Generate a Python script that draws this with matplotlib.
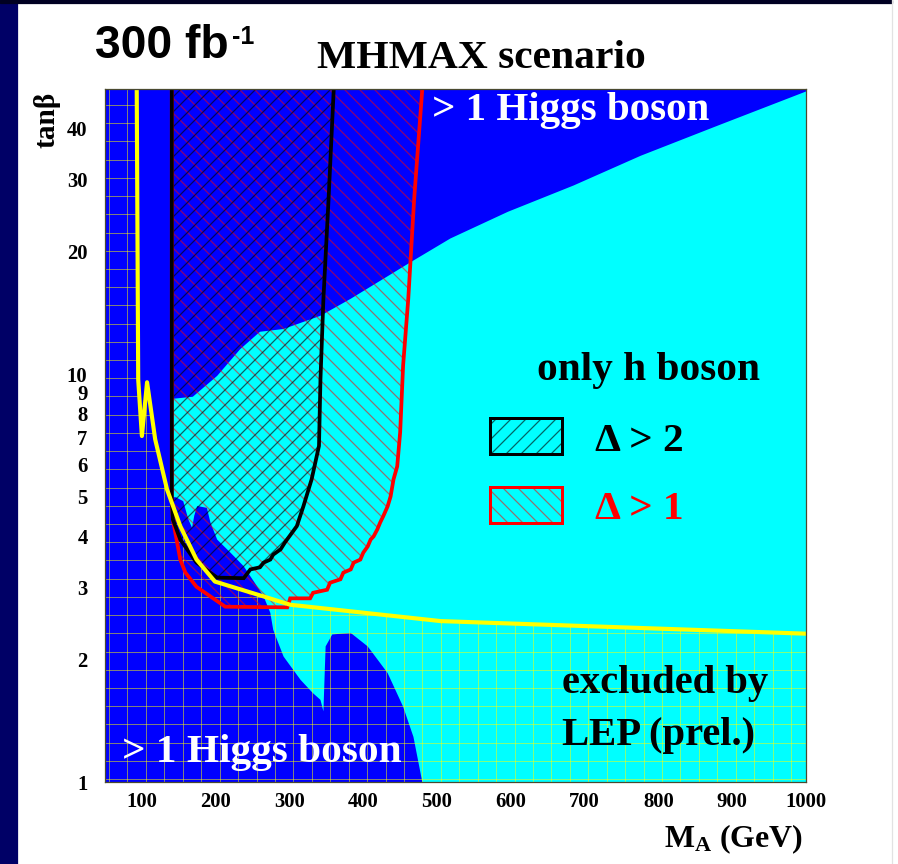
import matplotlib
matplotlib.use("Agg")
from matplotlib import pyplot as plt
from matplotlib.patches import Polygon, Rectangle
from matplotlib.collections import LineCollection
from matplotlib.ticker import NullLocator

# MHMAX scenario, 300 fb-1 : tan(beta) vs M_A, boundaries

# "only h boson" (cyan) region, from top right going round anticlockwise
cyan_ma = [1000, 881, 776, 685, 596, 518, 464, 383, 342, 292, 260, 233, 202, 169, 142,
           142, 146, 156, 163, 168, 171, 175, 188, 193, 202, 220, 238, 256, 265, 274,
           278, 292, 315, 332, 342, 346, 349, 358, 383, 406, 433, 454, 468, 480, 1000]
cyan_tb = [49.3, 40.7, 34.3, 29.0, 25.0, 21.5, 18.8, 15.3, 13.9, 12.9, 12.7, 11.5, 9.9, 8.8, 8.7,
           4.99, 4.99, 4.88, 4.40, 4.20, 4.50, 4.75, 4.70, 4.32, 3.93, 3.65, 3.38, 3.02, 2.85, 2.60,
           2.36, 2.03, 1.78, 1.65, 1.59, 1.49, 2.15, 2.30, 2.32, 2.15, 1.85, 1.53, 1.29, 1.0, 1.0]

# LEP exclusion boundary (yellow)
lep_ma = [93, 95, 100, 107, 118, 134, 152, 174, 199, 265, 301, 505, 1000]
lep_tb = [50, 9.7, 7.05, 9.55, 6.92, 5.22, 4.24, 3.51, 3.10, 2.85, 2.72, 2.48, 2.31]

# Delta > 1 contour (red)
d1_ma = [140.5, 140.5, 142, 152, 159, 174, 213, 297, 301, 328, 332, 351, 355, 369, 373,
         383, 387, 396, 400, 406, 410, 414, 419, 423, 427, 433, 437, 441, 446, 450,
         454, 461, 469, 480]
d1_tb = [50, 4.9, 4.40, 3.51, 3.26, 3.01, 2.69, 2.68, 2.82, 2.82, 2.91, 2.96, 3.08, 3.14, 3.26,
         3.32, 3.45, 3.51, 3.65, 3.78, 3.93, 4.0, 4.16, 4.33, 4.48, 4.74, 5.01, 5.52, 5.94, 7.2,
         10.5, 15.3, 26.9, 50]

# Delta > 2 contour (black)
d2_ma = [140.5, 140.5, 142, 152, 174, 202, 238, 247, 260, 265, 274, 278, 288, 294,
         310, 319, 330, 340, 342, 346, 353, 360]
d2_tb = [50, 4.93, 4.40, 3.93, 3.45, 3.17, 3.16, 3.32, 3.36, 3.45, 3.51, 3.61, 3.72, 3.87,
         4.24, 4.75, 5.52, 6.67, 9.72, 15.3, 26.9, 50]

xticks = [100, 200, 300, 400, 500, 600, 700, 800, 900, 1000]
yticks = [1, 2, 3, 4, 5, 6, 7, 8, 9, 10, 20, 30, 40]

BLUE = "#0000ff"
CYAN = "#00ffff"
W, H, DPI = 898, 864, 90

plt.rcParams["font.family"] = ["Liberation Serif", "DejaVu Serif"]
plt.rcParams["font.weight"] = "bold"
plt.rcParams["mathtext.fontset"] = "custom"
plt.rcParams["mathtext.rm"] = "Liberation Serif:bold"
plt.rcParams["mathtext.bf"] = "Liberation Serif:bold"
plt.rcParams["mathtext.it"] = "Liberation Serif:bold"
plt.rcParams["mathtext.default"] = "bf"
plt.rcParams["hatch.linewidth"] = 1.0


def fp(x, y):
    # pixel position -> figure fraction
    return x / W, 1 - y / H


fig = plt.figure(figsize=(W / DPI, H / DPI), dpi=DPI)
fig.patch.set_facecolor("white")
fig.add_artist(Rectangle((0, 0), 17 / W, 1, transform=fig.transFigure, color="#000066", zorder=0))
fig.add_artist(Rectangle((0, 1 - 3 / H), 892 / W, 3 / H, transform=fig.transFigure, color="#000022", zorder=0))
fig.add_artist(plt.Line2D([892 / W, 892 / W], [0, 1], transform=fig.transFigure, color="#e2e2e2", lw=1))

ax = fig.add_axes([105 / W, 1 - 782 / H, 701 / W, 693 / H])
ax.set_facecolor(BLUE)
ax.set_xlim(50, 1000)
ax.set_yscale("log")
ax.set_ylim(1, 50)

# cyan region
ax.add_patch(Polygon(list(zip(cyan_ma, cyan_tb)), closed=True, facecolor=CYAN, edgecolor="none", zorder=1))

# LEP excluded region with its grid pattern
lep_poly = [(50, 1), (50, 50)] + list(zip(lep_ma, lep_tb)) + [(1000, 1)]
lep_patch = Polygon(lep_poly, closed=True, facecolor="none", edgecolor="none", zorder=2)
ax.add_patch(lep_patch)
segs = []
for k in range(40):
    p = 0.0058 + 0.02629 * k
    segs.append([(p, 0), (p, 1)])
    q = 0.0042 + 0.02629 * k
    segs.append([(0, q), (1, q)])
grid = LineCollection(segs, colors=[(1, 1, 0, 0.5)], linewidths=0.8, transform=ax.transAxes, zorder=2)
ax.add_collection(grid)
grid.set_clip_path(lep_patch)

# hatched Delta regions
ax.add_patch(Polygon(list(zip(d1_ma, d1_tb)), closed=True, facecolor="none",
                     edgecolor=(1, 0, 0, 0.55), lw=0, hatch="\\\\", zorder=3))
ax.add_patch(Polygon(list(zip(d2_ma, d2_tb)), closed=True, facecolor="none",
                     edgecolor=(0, 0, 0, 0.6), lw=0, hatch="//", zorder=3))
ax.plot(d1_ma, d1_tb, color="red", lw=3, zorder=4, solid_joinstyle="miter")
ax.plot(d2_ma, d2_tb, color="black", lw=3, zorder=4, solid_joinstyle="miter")
ax.plot(lep_ma, lep_tb, color="#ffff00", lw=3.3, zorder=5)

ax.set_xticks(xticks)
ax.set_xticklabels([str(v) for v in xticks])
ax.set_yticks(yticks)
ax.set_yticklabels([str(v) for v in yticks])
ax.yaxis.set_minor_locator(NullLocator())
ax.xaxis.set_minor_locator(NullLocator())
ax.tick_params(which="both", length=0, labelsize=16.5)
ax.tick_params(axis="y", pad=14)
ax.tick_params(axis="x", pad=8)
for s in ax.spines.values():
    s.set_color("#4a4a30")
    s.set_linewidth(1.0)
    s.set_zorder(6)

# legend for the hatched areas
for yb, hatch, col, hcol in [(0.4733, "//", "black", (0, 0, 0, 0.6)),
                             (0.3737, "\\\\", "red", (1, 0, 0, 0.55))]:
    ax.add_patch(Rectangle((0.5486, yb), 0.1029, 0.0519, transform=ax.transAxes,
                           facecolor="none", edgecolor=hcol, lw=0, hatch=hatch, zorder=6))
    ax.add_patch(Rectangle((0.5486, yb), 0.1029, 0.0519, transform=ax.transAxes,
                           facecolor="none", edgecolor=col, lw=2.4, zorder=6))

# labels
fig.text(*fp(95, 58), "300 fb", family="Liberation Sans", weight="bold", fontsize=37, va="baseline")
fig.text(*fp(232, 44), "-1", family="Liberation Sans", weight="bold", fontsize=20, va="baseline")
fig.text(*fp(317, 68), "MHMAX scenario", fontsize=33.2, va="baseline")
fig.text(*fp(47, 120), "tan\u03b2", fontsize=23.5, rotation=90, ha="center", va="center")
fig.text(*fp(432, 120), "> 1 Higgs boson", color="white", fontsize=32.8, va="baseline", zorder=7)
fig.text(*fp(122, 762), "> 1 Higgs boson", color="white", fontsize=33, va="baseline", zorder=7)
fig.text(*fp(537, 380), "only h boson", fontsize=33, va="baseline", zorder=7)
fig.text(*fp(595, 451), "\u0394 > 2", fontsize=33, va="baseline", zorder=7)
fig.text(*fp(595, 519), "\u0394 > 1", fontsize=33, color="red", va="baseline", zorder=7)
fig.text(*fp(562, 693), "excluded by", fontsize=32.5, va="baseline", zorder=7)
fig.text(*fp(562, 745), "LEP (prel.)", fontsize=32.5, va="baseline", zorder=7)
fig.text(*fp(803, 847), r"M$_{A}$ (GeV)", fontsize=25.5, ha="right", va="baseline")

fig.savefig("out.png", dpi=DPI)
